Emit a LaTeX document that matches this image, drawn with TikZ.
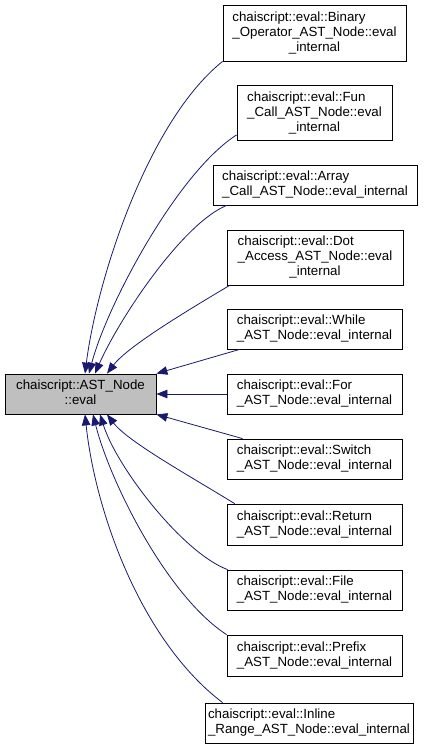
\documentclass[tikz,border=0pt]{standalone}
\usepackage{fontspec}
\setmainfont{Liberation Sans}
\usetikzlibrary{arrows.meta}
\definecolor{edgeblue}{HTML}{191970}
\definecolor{mainfill}{HTML}{BFBFBF}
\newcommand{\twolines}[2]{\begin{tabular}{@{}l@{}}#1\\\multicolumn{1}{@{}c@{}}{#2}\end{tabular}}
\newcommand{\threelines}[3]{\begin{tabular}{@{}l@{}}#1\\#2\\\multicolumn{1}{@{}c@{}}{#3}\end{tabular}}
\tikzset{
  cls/.style={draw=black, line width=0.8pt, fill=white, inner sep=0pt, anchor=center,
    font=\fontsize{13.3}{15}\selectfont},
  edge/.style={draw=edgeblue, line width=0.8pt, -{Triangle[length=11pt,width=8.5pt]}, fill=none},
}
\begin{document}
\begin{tikzpicture}[x=1pt,y=-1pt]
\useasboundingbox (0,0) rectangle (429,747);

\node[cls, fill=mainfill, minimum width=151pt, minimum height=40pt] (m) at (80.5,394)
  {\twolines{chaiscript::AST\_Node}{::eval}};

\node[cls, minimum width=183pt, minimum height=56pt] (b1) at (314.5,33)
  {\threelines{chaiscript::eval::Binary}{\_Operator\_AST\_Node::eval}{\_internal}};
\node[cls, minimum width=155pt, minimum height=55pt] (b2) at (314.5,113)
  {\threelines{chaiscript::eval::Fun}{\_Call\_AST\_Node::eval}{\_internal}};
\node[cls, minimum width=204pt, minimum height=40pt] (b3) at (315,185)
  {\twolines{chaiscript::eval::Array}{\_Call\_AST\_Node::eval\_internal}};
\node[cls, minimum width=176pt, minimum height=55pt] (b4) at (315,257.5)
  {\threelines{chaiscript::eval::Dot}{\_Access\_AST\_Node::eval}{\_internal}};
\node[cls, minimum width=175pt, minimum height=40pt] (b5) at (314.5,329)
  {\twolines{chaiscript::eval::While}{\_AST\_Node::eval\_internal}};
\node[cls, minimum width=175pt, minimum height=40pt] (b6) at (314.5,394)
  {\twolines{chaiscript::eval::For}{\_AST\_Node::eval\_internal}};
\node[cls, minimum width=175pt, minimum height=40pt] (b7) at (314.5,459)
  {\twolines{chaiscript::eval::Switch}{\_AST\_Node::eval\_internal}};
\node[cls, minimum width=175pt, minimum height=41pt] (b8) at (314.5,524.5)
  {\twolines{chaiscript::eval::Return}{\_AST\_Node::eval\_internal}};
\node[cls, minimum width=175pt, minimum height=40pt] (b9) at (314.5,590)
  {\twolines{chaiscript::eval::File}{\_AST\_Node::eval\_internal}};
\node[cls, minimum width=175pt, minimum height=41pt] (b10) at (314.5,655.5)
  {\twolines{chaiscript::eval::Prefix}{\_AST\_Node::eval\_internal}};
\node[cls, minimum width=208pt, minimum height=40pt] (b11) at (309,723)
  {\twolines{chaiscript::eval::Inline}{\_Range\_AST\_Node::eval\_internal}};

% edges above
\draw[edge] (b1.south west) .. controls (148,121) and (97,279) .. ([xshift=4.5pt]m.north);
\draw[edge] ([yshift=6pt]b2.south west) .. controls (177,173) and (106.6,306) .. ([xshift=8.5pt]m.north);
\draw[edge] ([xshift=14pt]b3.south west) .. controls (182,224) and (119,319) .. ([xshift=14.5pt]m.north);
\draw[edge] ([xshift=3pt]b4.south west) .. controls (190,309) and (128,346) .. ([xshift=26.5pt]m.north);
\draw[edge] ([xshift=13pt]b5.south west) -- (m.north east);
\draw[edge] (b6.west) -- (m.east);
% edges below
\draw[edge] ([xshift=16pt]b7.north west) -- (m.south east);
\draw[edge] ([xshift=8pt]b8.north west) .. controls (195,479) and (128,442) .. ([xshift=26.5pt]m.south);
\draw[edge] ([xshift=1pt]b9.north west) .. controls (183,553) and (117,468) .. ([xshift=19.5pt]m.south);
\draw[edge] (b10.north west) .. controls (167,596) and (110,482) .. ([xshift=12.5pt]m.south);
\draw[edge] ([xshift=18pt]b11.north west) .. controls (140,640) and (95,510) .. ([xshift=4.5pt]m.south);
\end{tikzpicture}
\end{document}
